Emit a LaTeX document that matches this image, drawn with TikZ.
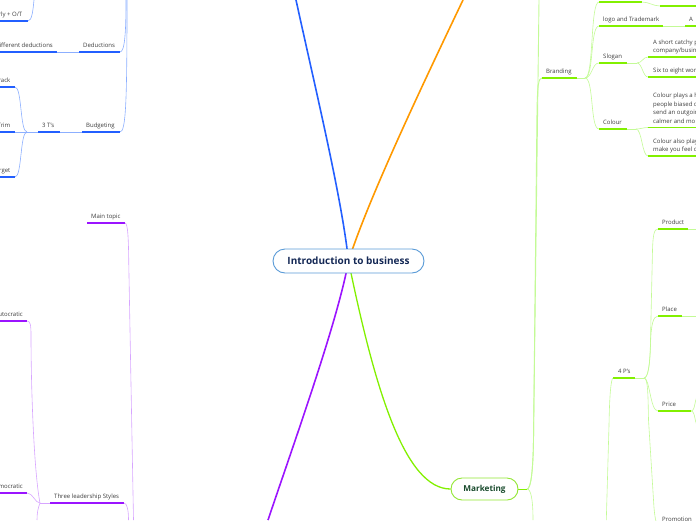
\documentclass[tikz,border=0pt]{standalone}
\usepackage{fontspec}
\setmainfont{Open Sans}
\usetikzlibrary{backgrounds}
\definecolor{bblue}{RGB}{35,95,255}
\definecolor{lblue}{RGB}{140,175,255}
\definecolor{orng}{RGB}{255,153,0}
\definecolor{purp}{RGB}{155,20,255}
\definecolor{lpurp}{RGB}{215,165,255}
\definecolor{grn}{RGB}{130,240,0}
\definecolor{lgrn}{RGB}{195,250,150}
\definecolor{mkgrn}{RGB}{145,230,50}
\definecolor{mktext}{RGB}{25,75,45}
\definecolor{cenborder}{RGB}{90,155,215}
\definecolor{centext}{RGB}{20,40,85}
\definecolor{txt}{RGB}{60,60,60}
\tikzset{
  lbl/.style={font=\fontsize{6}{8}\selectfont, text=txt, inner sep=0pt, anchor=base west},
  lblr/.style={lbl, anchor=base east},
  ul/.style={line width=1.3pt},
  cn/.style={line width=0.6pt},
  trunk/.style={line width=1.6pt},
}
\begin{document}
\begin{tikzpicture}[x=1pt,y=-1pt]
\useasboundingbox (0,0) rectangle (696,520);
\clip (0,0) rectangle (696,520);
% ---------- central topics
\node[draw=cenborder, line width=0.9pt, fill=white, rounded corners=12pt, minimum width=151pt, minimum height=24pt, inner sep=0pt, text=centext, font=\fontsize{10}{12}\selectfont\bfseries] (cen) at (348.5,261) {Introduction to business};
\node[draw=mkgrn, line width=0.9pt, fill=white, rounded corners=11pt, minimum width=67pt, minimum height=22pt, inner sep=0pt, text=mktext, font=\fontsize{8.2}{10}\selectfont\bfseries] (mk) at (484.5,489) {Marketing};
% ---------- free ends of main branches
\coordinate (bTop) at (296,0);
\coordinate (oTop) at (463,0);
\coordinate (pBot) at (268,520);
% ---------- blue subtree
\coordinate (bpA) at (126,0);
\coordinate (bpB) at (127,0);
\coordinate (dedL) at (79,52);  \coordinate (dedR) at (120,52);
\coordinate (difL) at (0,52);   \coordinate (difR) at (57,52);
\coordinate (hrL) at (0,21);    \coordinate (hrR) at (28,21);  \coordinate (hrP) at (34,0);
\coordinate (budL) at (82,132); \coordinate (budR) at (120,132);
\coordinate (ttL) at (38,132);  \coordinate (ttR) at (60,132); \coordinate (ttJ) at (27,132);
\coordinate (trkL) at (0,87);   \coordinate (trkR) at (15,87);
\coordinate (trmL) at (0,132);  \coordinate (trmR) at (15,132);
\coordinate (tgtL) at (0,177);  \coordinate (tgtR) at (15,177);
\node[lbl]  (ded) at (83,47.5) {Deductions};
\node[lblr] (dif) at (53,47.5) {Different deductions};
\node[lblr] (hr)  at (22.5,16.5) {Hourly + O/T};
\node[lbl]  (bud) at (86,127.5) {Budgeting};
\node[lbl]  (tts) at (42,127.5) {3 T's};
\node[lblr] (trk) at (10.5,82.5) {Track};
\node[lblr] (trm) at (10.5,127.5) {Trim};
\node[lblr] (tgt) at (10.5,172.5) {Target};
% ---------- purple subtree
\coordinate (mtL) at (87,223);  \coordinate (mtR) at (125,223);
\coordinate (pA) at (133.5,520);
\coordinate (tlL) at (50,503);  \coordinate (tlR) at (124,503); \coordinate (tlJ) at (40,503);
\coordinate (pB) at (128.5,520);
\coordinate (auL) at (0,321);   \coordinate (auR) at (27,321);
\coordinate (deL) at (0,493);   \coordinate (deR) at (27,493);
\coordinate (tlD) at (37,520);
\node[lbl]  (mt) at (91,218.5) {Main topic};
\node[lbl]  (tl) at (54,498.5) {Three leadership Styles};
\node[lblr] (au) at (23,316.5) {Autocratic};
\node[lblr] (de) at (23,488.5) {Democratic};
% ---------- green subtree
\coordinate (mJ) at (527,489);
\coordinate (gTop) at (539,0);
\coordinate (gBot) at (533,520);
\coordinate (brL) at (542,78);  \coordinate (brR) at (577,78);  \coordinate (brJ) at (585,78);
\coordinate (t1L) at (599,2);   \coordinate (t1R) at (642,2);
\coordinate (t2L) at (660,6);   \coordinate (t2R) at (696,6);
\coordinate (lgL) at (599,26);  \coordinate (lgR) at (663,26);
\coordinate (aL) at (685,26);   \coordinate (aR) at (696,26);
\coordinate (slL) at (599,63);  \coordinate (slR) at (627,63);  \coordinate (slJ) at (637,63);
\coordinate (s1L) at (648,57);  \coordinate (s1R) at (696,57);
\coordinate (s2L) at (648,77);  \coordinate (s2R) at (696,77);
\coordinate (coL) at (599,129); \coordinate (coR) at (627,129); \coordinate (coJ) at (636,129);
\coordinate (c1L) at (648,127.5); \coordinate (c1R) at (696,127.5);
\coordinate (c2L) at (648,156); \coordinate (c2R) at (696,156);
\coordinate (fpL) at (613,378); \coordinate (fpR) at (635,378); \coordinate (fpJ) at (644,378);
\coordinate (fpD) at (606.3,520);
\coordinate (prdL) at (658,229); \coordinate (prdR) at (688,229); \coordinate (prdE) at (696,229);
\coordinate (plL) at (658,316);  \coordinate (plR) at (682,316);  \coordinate (plE) at (696,316);
\coordinate (priL) at (658,411); \coordinate (priR) at (691,411);
\coordinate (priU) at (699,396); \coordinate (priD) at (699,426);
\coordinate (proL) at (660,526);
\node[lbl] (br)  at (546,73.5) {Branding};
\node[lbl] (lg)  at (603,21.5) {logo and Trademark};
\node[lbl] (aa)  at (689,21.5) {A};
\node[lbl] (sl)  at (603,58.5) {Slogan};
\node[lbl] (s1a) at (653,44) {A short catchy p};
\node[lbl] (s1b) at (653,52.5) {company/busin};
\node[lbl] (s2)  at (653,72.5) {Six to eight wor};
\node[lbl] (co)  at (603,124.5) {Colour};
\node[lbl] (c1a) at (653,97.5) {Colour plays a h};
\node[lbl] (c1b) at (653,106) {people biased o};
\node[lbl] (c1c) at (653,114.5) {send an outgoin};
\node[lbl] (c1d) at (653,123) {calmer and mo};
\node[lbl] (c2a) at (653,143.5) {Colour also play};
\node[lbl] (c2b) at (653,151.5) {make you feel c};
\node[lbl] (fp)  at (618,373.5) {4 P's};
\node[lbl] (prd) at (662,224.5) {Product};
\node[lbl] (pl)  at (662,311.5) {Place};
\node[lbl] (pri) at (662,406.5) {Price};
\node[lbl] (pro) at (662,521) {Promotion};
% ---------- connectors
\begin{pgfonlayer}{background}
\clip (0,0) rectangle (696,520);
\draw[trunk, bblue] (cen.center) .. controls (342,200) and (318,100) .. (bTop);
\draw[trunk, orng] (cen.center) .. controls (368,200) and (420,90) .. (oTop);
\draw[trunk, purp] (cen.center) .. controls (338,320) and (295,440) .. (pBot);
\draw[line width=1.3pt, grn] (cen.center) .. controls (375,390) and (405,489) .. (mk.west);
% blue
\draw[cn, lblue] (bpA) .. controls (126,30) and (125,52) .. (dedR);
\draw[cn, lblue] (bpB) .. controls (127,100) and (126,132) .. (budR);
\draw[ul, bblue] (dedL) -- (dedR);
\draw[cn, lblue] (dedL) -- (difR);
\draw[ul, bblue] (difL) -- (difR);
\draw[ul, bblue] (hrL) -- (hrR);
\draw[cn, lblue] (hrR) .. controls (32,21) and (33,10) .. (hrP);
\draw[ul, bblue] (budL) -- (budR);
\draw[cn, lblue] (budL) -- (ttR);
\draw[ul, bblue] (ttL) -- (ttR);
\draw[cn, lblue] (ttL) -- (ttJ);
\draw[cn, lblue] (ttJ) -- (trmR);
\draw[cn, lblue] (ttJ) .. controls (20,132) and (22,87) .. (trkR);
\draw[cn, lblue] (ttJ) .. controls (20,132) and (22,177) .. (tgtR);
\draw[ul, bblue] (trkL) -- (trkR);
\draw[ul, bblue] (trmL) -- (trmR);
\draw[ul, bblue] (tgtL) -- (tgtR);
% purple
\draw[ul, purp] (mtL) -- (mtR);
\draw[cn, lpurp] (mtR) .. controls (128,223) and (128.5,240) .. (128.8,265) -- (pA);
\draw[ul, purp] (tlL) -- (tlR);
\draw[cn, lpurp] (tlR) .. controls (127,503) and (128.5,510) .. (pB);
\draw[cn, lpurp] (tlL) -- (tlJ);
\draw[cn, lpurp] (tlJ) .. controls (34,472) and (31,390) .. (31,335) .. controls (31,324) and (30,321) .. (auR);
\draw[cn, lpurp] (tlJ) .. controls (35,503) and (33,493) .. (deR);
\draw[cn, lpurp] (tlJ) .. controls (38,508) and (37,513) .. (tlD);
\draw[ul, purp] (auL) -- (auR);
\draw[ul, purp] (deL) -- (deR);
% green
\draw[cn, grn] (mk.east) -- (mJ);
\draw[line width=0.9pt, lgrn] (mJ) .. controls (531,489) and (533,470) .. (533.5,440) -- (gTop);
\draw[line width=0.9pt, lgrn] (mJ) .. controls (531,489) and (533,470) .. (533.5,440) -- (537,110) .. controls (537.5,85) and (538.5,78) .. (brL);
\draw[cn, lgrn] (mJ) .. controls (531,489) and (533,500) .. (gBot);
\draw[ul, grn] (brL) -- (brR);
\draw[cn, lgrn] (brR) -- (brJ);
\draw[cn, lgrn] (brJ) to[out=0,in=180,distance=9pt] (t1L);
\draw[cn, lgrn] (brJ) to[out=0,in=180,distance=9pt] (lgL);
\draw[cn, lgrn] (brJ) to[out=0,in=180,distance=7pt] (slL);
\draw[cn, lgrn] (brJ) to[out=0,in=180,distance=9pt] (coL);
\draw[ul, grn] (t1L) -- (t1R);
\draw[cn, lgrn] (t1R) to[out=0,in=180,distance=7pt] (t2L);
\draw[ul, grn] (t2L) -- (t2R);
\draw[ul, grn] (lgL) -- (lgR);
\draw[cn, lgrn] (lgR) -- (aL);
\draw[ul, grn] (aL) -- (aR);
\draw[ul, grn] (slL) -- (slR);
\draw[cn, lgrn] (slR) -- (slJ);
\draw[cn, lgrn] (slJ) to[out=0,in=180,distance=5pt] (s1L);
\draw[cn, lgrn] (slJ) to[out=0,in=180,distance=5pt] (s2L);
\draw[ul, grn] (s1L) -- (s1R);
\draw[ul, grn] (s2L) -- (s2R);
\draw[ul, grn] (coL) -- (coR);
\draw[cn, lgrn] (coR) -- (coJ);
\draw[cn, lgrn] (coJ) to[out=0,in=180,distance=5pt] (c1L);
\draw[cn, lgrn] (coJ) to[out=0,in=180,distance=6pt] (c2L);
\draw[ul, grn] (c1L) -- (c1R);
\draw[ul, grn] (c2L) -- (c2R);
\draw[ul, grn] (fpL) -- (fpR);
\draw[cn, lgrn] (fpR) -- (fpJ);
\draw[cn, lgrn] (fpL) .. controls (611,379) and (609.5,395) .. (609,425) -- (fpD);
\draw[cn, lgrn] (fpJ) .. controls (648,378) and (650,365) .. (650.5,340) -- (652.5,250) .. controls (653,235) and (654,229) .. (prdL);
\draw[cn, lgrn] (fpJ) .. controls (648,378) and (650,365) .. (650.5,345) .. controls (651,325) and (653,316) .. (plL);
\draw[cn, lgrn] (fpJ) .. controls (650,378) and (650,411) .. (priL);
\draw[cn, lgrn] (fpJ) .. controls (648,378) and (648,395) .. (648.5,420) -- (653.5,500) .. controls (654.5,518) and (656,526) .. (proL);
\draw[ul, grn] (prdL) -- (prdR);
\draw[cn, lgrn] (prdR) -- (prdE);
\draw[ul, grn] (plL) -- (plR);
\draw[cn, lgrn] (plR) -- (plE);
\draw[ul, grn] (priL) -- (priR);
\draw[cn, lgrn] (priR) to[out=0,in=180,distance=5pt] (priU);
\draw[cn, lgrn] (priR) to[out=0,in=180,distance=5pt] (priD);
\end{pgfonlayer}
\end{tikzpicture}
\end{document}
